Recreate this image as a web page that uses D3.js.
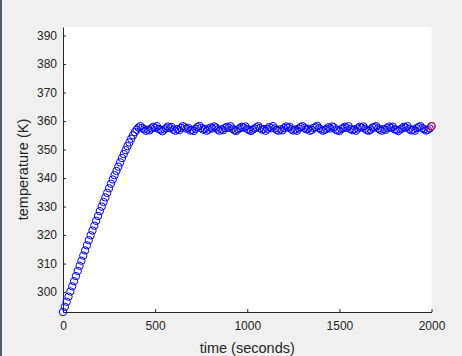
<!DOCTYPE html>
<html>
<head>
<meta charset="utf-8">
<script src="https://cdn.jsdelivr.net/npm/d3@7"></script>
<style>
  html, body { margin: 0; padding: 0; background: #f0f0f0; }
  svg { display: block; }
</style>
</head>
<body>
<div class="canvas"></div>
<script>
// sampling: one reading every 10 s
const stepSeconds = 10;

// heating ramp, t = 0 .. 400 s
const rampTemps = [
  293.0, 294.8, 296.6, 298.4, 300.2, 302.0, 303.8, 305.6, 307.4, 309.2,
  311.0, 312.8, 314.6, 316.4, 318.2, 319.9, 321.6, 323.3, 325.0, 326.7,
  328.4, 330.0, 331.6, 333.2, 334.8, 336.4, 338.0, 339.5, 341.0, 342.5,
  344.0, 345.5, 347.0, 348.4, 349.8, 351.2, 352.5, 353.8, 355.0, 356.1,
  357.0
];

// holding around the set point, t = 410 .. 2000 s
const plateauTemps = [
  357.7, 358.2, 357.6, 357.1, 356.6, 357.0, 356.7, 357.4, 358.0, 357.6, 358.2, 357.2, 356.9, 356.4, 357.1, 357.5,
  358.1, 357.5, 357.9, 357.0, 356.6, 357.2, 356.8, 357.6, 358.2, 357.8, 357.3, 357.6, 356.7, 356.9, 356.5, 357.3,
  357.9, 358.3, 357.6, 357.0, 357.3, 356.6, 357.0, 357.7, 357.4, 358.1, 357.7, 357.0, 356.6, 357.1, 356.8, 357.6,
  358.0, 357.6, 358.2, 357.3, 356.8, 356.5, 357.1, 357.5, 358.0, 357.7, 358.1, 357.2, 356.9, 356.5, 357.0, 357.4,
  357.8, 358.2, 357.5, 357.0, 357.2, 356.6, 357.3, 357.9, 357.5, 358.2, 357.4, 356.9, 356.6, 357.1, 356.7, 357.5,
  358.1, 357.7, 358.0, 357.1, 356.7, 357.0, 356.6, 357.4, 357.9, 358.2, 357.6, 357.1, 357.3, 356.6, 356.9, 357.6,
  357.9, 358.3, 357.5, 357.1, 356.6, 356.9, 357.2, 357.8, 357.4, 358.1, 357.8, 357.0, 356.7, 356.5, 357.2, 357.5,
  358.0, 357.6, 358.2, 357.2, 356.8, 357.1, 356.6, 357.4, 358.0, 357.7, 358.1, 357.3, 356.8, 356.6, 357.0, 357.7,
  357.9, 358.2, 357.4, 357.0, 356.6, 357.2, 356.9, 357.6, 358.1, 357.6, 358.0, 357.1, 356.9, 356.5, 357.1, 357.4,
  358.0, 357.7, 358.2, 357.2, 356.7, 357.0, 356.6, 357.5, 357.9, 358.2, 357.5, 357.1, 356.7, 356.9, 357.4, 358.2
];

const xTicks = [0, 500, 1000, 1500, 2000];
const yTicks = [300, 310, 320, 330, 340, 350, 360, 370, 380, 390];

const temps = rampTemps.concat(plateauTemps);
const data = temps.map((v, i) => ({ t: i * stepSeconds, temp: v }));

const width = 462, height = 356;
const margin = { top: 27, right: 30, bottom: 44, left: 63 };
const graphWidth = 431.5 - margin.left;
const graphHeight = height - margin.bottom - margin.top;
const axisColor = '#262626';
const fontFamily = '"Liberation Sans", Arial, sans-serif';

//append svg
const svg = d3.select('.canvas')
  .append('svg')
  .attr('width', width)
  .attr('height', height);

// dark window edge on the left
svg.append('rect')
  .attr('x', 0).attr('y', 0)
  .attr('width', 2).attr('height', height)
  .attr('fill', '#535b65');

const graph = svg.append('g')
  .attr('transform', `translate(${margin.left}, ${margin.top})`);

// white plot area
graph.append('rect')
  .attr('width', graphWidth)
  .attr('height', graphHeight)
  .attr('fill', '#ffffff');

const x = d3.scaleLinear()
  .domain([0, 2000])
  .range([0, graphWidth]);

const y = d3.scaleLinear()
  .domain([293, 393])
  .range([graphHeight, 0]);

// axes (ticks point inward like matlab)
const xAxisGroup = graph.append('g')
  .attr('transform', `translate(0, ${graphHeight})`)
  .call(d3.axisBottom(x).tickValues(xTicks).tickFormat(d3.format('d'))
    .tickSizeInner(-3).tickSizeOuter(0).tickPadding(9));

const yAxisGroup = graph.append('g')
  .call(d3.axisLeft(y).tickValues(yTicks).tickFormat(d3.format('d'))
    .tickSizeInner(-3).tickSizeOuter(0).tickPadding(6));

[xAxisGroup, yAxisGroup].forEach(g => {
  g.select('.domain').attr('stroke', axisColor);
  g.selectAll('.tick line').attr('stroke', axisColor);
  g.selectAll('.tick text')
    .attr('fill', axisColor)
    .style('font-family', fontFamily)
    .style('font-size', '12px');
});

// markers
graph.append('g')
  .selectAll('circle')
  .data(data)
  .enter()
  .append('circle')
  .attr('cx', d => x(d.t))
  .attr('cy', d => y(d.temp))
  .attr('r', 3.7)
  .attr('fill', 'none')
  .attr('stroke', '#0000ff')
  .attr('stroke-width', 1);

// last sample highlighted in red
const last = data[data.length - 1];
graph.append('circle')
  .attr('cx', x(last.t))
  .attr('cy', y(last.temp))
  .attr('r', 3.7)
  .attr('fill', 'none')
  .attr('stroke', '#ff0000')
  .attr('stroke-width', 1);

// axis labels
svg.append('text')
  .attr('x', margin.left + graphWidth / 2)
  .attr('y', 353)
  .attr('text-anchor', 'middle')
  .attr('fill', axisColor)
  .style('font-family', fontFamily)
  .style('font-size', '14.5px')
  .text('time (seconds)');

svg.append('text')
  .attr('transform', `translate(28, ${margin.top + graphHeight / 2}) rotate(-90)`)
  .attr('text-anchor', 'middle')
  .attr('fill', axisColor)
  .style('font-family', fontFamily)
  .style('font-size', '14.5px')
  .text('temperature (K)');
</script>
</body>
</html>
